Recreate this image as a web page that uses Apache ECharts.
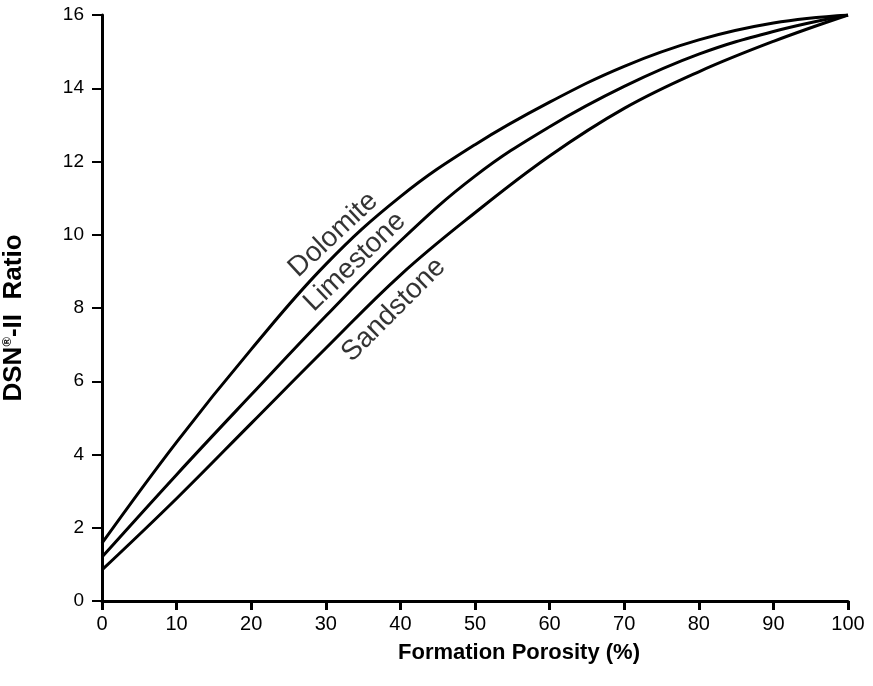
<!DOCTYPE html>
<html>
<head>
<meta charset="utf-8">
<script src="https://cdn.jsdelivr.net/npm/echarts@6/dist/echarts.min.js"></script>
<style>
  html, body { margin: 0; padding: 0; background: #fff; }
  #chart { width: 873px; height: 686px; }
</style>
</head>
<body>
<div id="chart"></div>
<script>
// Formation porosity (%)
const porosity = [0, 10, 20, 30, 40, 50, 60, 70, 80, 90, 100];
// DSN-II ratio per lithology
const dolomite  = [1.58, 4.34, 6.87, 9.19, 11.04, 12.46, 13.62, 14.60, 15.32, 15.78, 16.00];
const limestone = [1.20, 3.45, 5.63, 7.78, 9.83, 11.60, 12.95, 14.05, 14.93, 15.55, 16.00];
const sandstone = [0.85, 2.80, 4.85, 6.90, 8.90, 10.60, 12.15, 13.45, 14.45, 15.28, 16.00];
// Curve labels: [name, x, y, rotation]
const curveLabels = [
  ['Dolomite', 31.0, 10.0, 43],
  ['Limestone', 33.9, 9.26, 44],
  ['Sandstone', 39.1, 7.95, 45]
];
const xTicks = { min: 0, max: 100, interval: 10 };
const yTicks = { min: 0, max: 16, interval: 2 };

const toPairs = arr => porosity.map((x, i) => [x, arr[i]]);
const font = '"Liberation Sans", Arial, Helvetica, sans-serif';

const lineSeries = (name, arr) => ({
  name, type: 'line', data: toPairs(arr), smooth: 0.4, symbol: 'none',
  lineStyle: { color: '#000', width: 3 }, z: 3
});

const chart = echarts.init(document.getElementById('chart'), null, { renderer: 'canvas' });
chart.setOption({
  backgroundColor: '#fff',
  animation: false,
  grid: { left: 102, right: 25, top: 15, bottom: 85 },
  xAxis: {
    type: 'value', min: xTicks.min, max: xTicks.max, interval: xTicks.interval,
    axisLine: { show: true, lineStyle: { color: '#000', width: 3 } },
    axisTick: { show: true, length: 9, lineStyle: { color: '#000', width: 3 } },
    axisLabel: { color: '#000', fontSize: 20, fontFamily: font, margin: 13 },
    splitLine: { show: false }
  },
  yAxis: {
    type: 'value', min: yTicks.min, max: yTicks.max, interval: yTicks.interval,
    axisLine: { show: true, lineStyle: { color: '#000', width: 3 } },
    axisTick: { show: true, length: 10, lineStyle: { color: '#000', width: 2 } },
    axisLabel: { color: '#000', fontSize: 19, fontFamily: font, margin: 18 },
    splitLine: { show: false }
  },
  graphic: [
    {
      type: 'text', left: 398, top: 642,
      style: { text: 'Formation Porosity (%)', font: 'bold 22px ' + font, fill: '#000' }
    },
    {
      type: 'text', x: 14, y: 318, rotation: Math.PI / 2,
      style: {
        text: '{a|DSN}{b|®}{a|-II  Ratio}', align: 'center', verticalAlign: 'middle',
        rich: {
          a: { fontSize: 26, fontWeight: 'bold', fontFamily: font, fill: '#000' },
          b: { fontSize: 13, fontWeight: 'bold', fontFamily: font, fill: '#000', verticalAlign: 'top', padding: [0, 0, 12, 0] }
        }
      }
    }
  ],
  series: [
    lineSeries('Dolomite', dolomite),
    lineSeries('Limestone', limestone),
    lineSeries('Sandstone', sandstone),
    {
      type: 'scatter', symbolSize: 0, silent: true, z: 4,
      data: curveLabels.map(l => ({
        value: [l[1], l[2]],
        label: {
          show: true, position: 'inside', formatter: l[0], rotate: l[3],
          color: '#000', fontSize: 28, fontFamily: font, align: 'center', verticalAlign: 'middle'
        }
      }))
    }
  ]
});
</script>
</body>
</html>
